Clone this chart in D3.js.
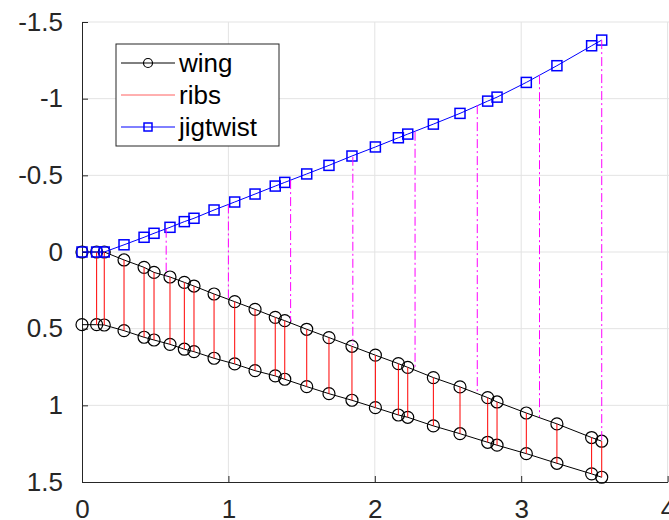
<!DOCTYPE html>
<html>
<head>
    <meta charset="utf-8">
    <title>wing</title>
    <script src="https://d3js.org/d3.v7.min.js"></script>
    <style>
        body { margin: 0; background: #fff; }
        svg { display: block; font-family: 'Liberation Sans', Arial, Helvetica, sans-serif; }
    </style>
</head>
<body>
    <div class="svg-container"></div>
    <script>
        // rib stations along the span
        const ribX = [0, 0.10, 0.152, 0.287, 0.424, 0.492, 0.601, 0.699, 0.765, 0.902, 1.043, 1.182, 1.320, 1.385,
            1.535, 1.687, 1.844, 2.004, 2.161, 2.225, 2.400, 2.582, 2.771, 2.835, 3.035, 3.244, 3.481, 3.550]
        const leadingY = [0, 0, 0, 0.052, 0.100, 0.133, 0.163, 0.198, 0.222, 0.274, 0.324, 0.374, 0.426, 0.448,
            0.504, 0.558, 0.615, 0.673, 0.728, 0.752, 0.819, 0.880, 0.950, 0.978, 1.050, 1.121, 1.210, 1.234]
        const trailingY = [0.474, 0.474, 0.476, 0.513, 0.556, 0.574, 0.602, 0.634, 0.650, 0.693, 0.730, 0.774, 0.808, 0.830,
            0.878, 0.924, 0.967, 1.015, 1.063, 1.078, 1.134, 1.185, 1.241, 1.260, 1.315, 1.378, 1.447, 1.469]
        const jigY = [0, 0, 0, -0.047, -0.096, -0.122, -0.161, -0.198, -0.220, -0.274, -0.326, -0.378, -0.430, -0.454,
            -0.509, -0.565, -0.626, -0.685, -0.745, -0.769, -0.834, -0.904, -0.984, -1.010, -1.106, -1.215, -1.345, -1.382]

        // dash-dot connectors
        const linkX = [0.575, 1.0, 1.425, 1.85, 2.275, 2.70, 3.125, 3.55]
        const linkTop = [-0.152, -0.31, -0.469, -0.621, -0.784, -0.958, -1.153, -1.382]
        const linkBottom = [0.155, 0.30, 0.454, 0.606, 0.758, 0.921, 1.076, 1.234]

        const xTicks = [0, 1, 2, 3, 4]
        const yTicks = [-1.5, -1, -0.5, 0, 0.5, 1, 1.5]
        const yTickLabels = ['-1.5', '-1', '-0.5', '0', '0.5', '1', '1.5']

        const legendNames = ['wing', 'ribs', 'jigtwist']

        const w = 669
        const h = 520
        const margin = { top: 22, left: 82, bottom: 38 }
        const fontSize = 26
        const axisColor = '#262626'

        const svg = d3.select('.svg-container')
            .append('svg')
            .attr('width', w)
            .attr('height', h)

        const x = d3.scaleLinear().domain([0, 4]).range([margin.left, 667.6])
        const y = d3.scaleLinear().domain([-1.5, 1.5]).range([margin.top, h - margin.bottom])

        // grid
        svg.append('g').selectAll('line')
            .data(xTicks.slice(1))
            .enter()
            .append('line')
            .attr('x1', d => x(d)).attr('x2', d => x(d))
            .attr('y1', y(-1.5)).attr('y2', y(1.5))
            .attr('stroke', '#e3e3e3')
        svg.append('g').selectAll('line')
            .data(yTicks.slice(0, -1))
            .enter()
            .append('line')
            .attr('x1', x(0)).attr('x2', w)
            .attr('y1', d => y(d)).attr('y2', d => y(d))
            .attr('stroke', '#e3e3e3')

        // axes, ticks pointing inward
        const xAxis = svg.append('g')
            .attr('transform', `translate(0,${y(1.5)})`)
            .call(d3.axisBottom(x).tickValues(xTicks).tickFormat(d => String(d)).tickSizeInner(-6).tickSizeOuter(0).tickPadding(18))
        const yAxis = svg.append('g')
            .attr('transform', `translate(${x(0)},0)`)
            .call(d3.axisLeft(y).tickValues(yTicks).tickFormat((d, i) => yTickLabels[i]).tickSizeInner(-6).tickSizeOuter(0).tickPadding(19))

        for (const ax of [xAxis, yAxis]) {
            ax.select('.domain').attr('stroke', axisColor)
            ax.selectAll('.tick line').attr('stroke', axisColor)
            ax.selectAll('.tick text')
                .attr('fill', axisColor)
                .style('font-size', fontSize + 'px')
                .style('font-family', "'Liberation Sans', Arial, sans-serif")
        }

        // wing outline
        const line = d3.line()
        const lead = ribX.map((v, i) => [x(v), y(leadingY[i])])
        const trail = ribX.map((v, i) => [x(v), y(trailingY[i])])
        const jig = ribX.map((v, i) => [x(v), y(jigY[i])])

        for (const pts of [lead, trail]) {
            svg.append('path')
                .attr('d', line(pts))
                .attr('fill', 'none')
                .attr('stroke', 'black')
                .attr('stroke-width', 1)
            svg.append('g').selectAll('circle')
                .data(pts)
                .enter()
                .append('circle')
                .attr('cx', d => d[0])
                .attr('cy', d => d[1])
                .attr('r', 6)
                .attr('fill', 'none')
                .attr('stroke', 'black')
                .attr('stroke-width', 1.2)
        }

        // ribs
        svg.append('g').selectAll('line')
            .data(ribX.slice(1).map((v, i) => i + 1))
            .enter()
            .append('line')
            .attr('x1', i => x(ribX[i])).attr('x2', i => x(ribX[i]))
            .attr('y1', i => y(leadingY[i])).attr('y2', i => y(trailingY[i]))
            .attr('stroke', '#ff0000')
            .attr('stroke-width', 1)

        // jig twist
        svg.append('path')
            .attr('d', line(jig))
            .attr('fill', 'none')
            .attr('stroke', '#0000ff')
            .attr('stroke-width', 1)
        svg.append('g').selectAll('rect')
            .data(jig)
            .enter()
            .append('rect')
            .attr('x', d => d[0] - 5)
            .attr('y', d => d[1] - 5)
            .attr('width', 10)
            .attr('height', 10)
            .attr('fill', 'none')
            .attr('stroke', '#0000ff')
            .attr('stroke-width', 1.5)

        // dash-dot links
        svg.append('g').selectAll('line')
            .data(linkX)
            .enter()
            .append('line')
            .attr('x1', d => x(d)).attr('x2', d => x(d))
            .attr('y1', (d, i) => y(linkTop[i])).attr('y2', (d, i) => y(linkBottom[i]))
            .attr('stroke', '#ff00ff')
            .attr('stroke-width', 1)
            .attr('stroke-dasharray', '9,3,2,3')

        // legend
        const legend = svg.append('g').attr('id', 'legend')
        legend.append('rect')
            .attr('x', 116).attr('y', 44)
            .attr('width', 163).attr('height', 102)
            .attr('fill', 'white')
            .attr('stroke', axisColor)
            .attr('stroke-width', 1)
        const legendColors = ['black', '#ff6060', '#0000ff']
        legendNames.forEach((name, i) => {
            const ly = 63 + i * 32
            legend.append('line')
                .attr('x1', 121).attr('x2', 175)
                .attr('y1', ly).attr('y2', ly)
                .attr('stroke', legendColors[i])
                .attr('stroke-width', 1)
            if (i === 0) {
                legend.append('circle')
                    .attr('cx', 148).attr('cy', ly).attr('r', 4.5)
                    .attr('fill', 'none').attr('stroke', 'black').attr('stroke-width', 1.2)
            }
            if (i === 2) {
                legend.append('rect')
                    .attr('x', 144).attr('y', ly - 4).attr('width', 8).attr('height', 8)
                    .attr('fill', 'none').attr('stroke', '#0000ff').attr('stroke-width', 1.5)
            }
            legend.append('text')
                .attr('x', 179).attr('y', ly)
                .attr('dy', '0.35em')
                .attr('fill', 'black')
                .style('font-size', fontSize + 'px')
                .text(name)
        })
    </script>
</body>
</html>
